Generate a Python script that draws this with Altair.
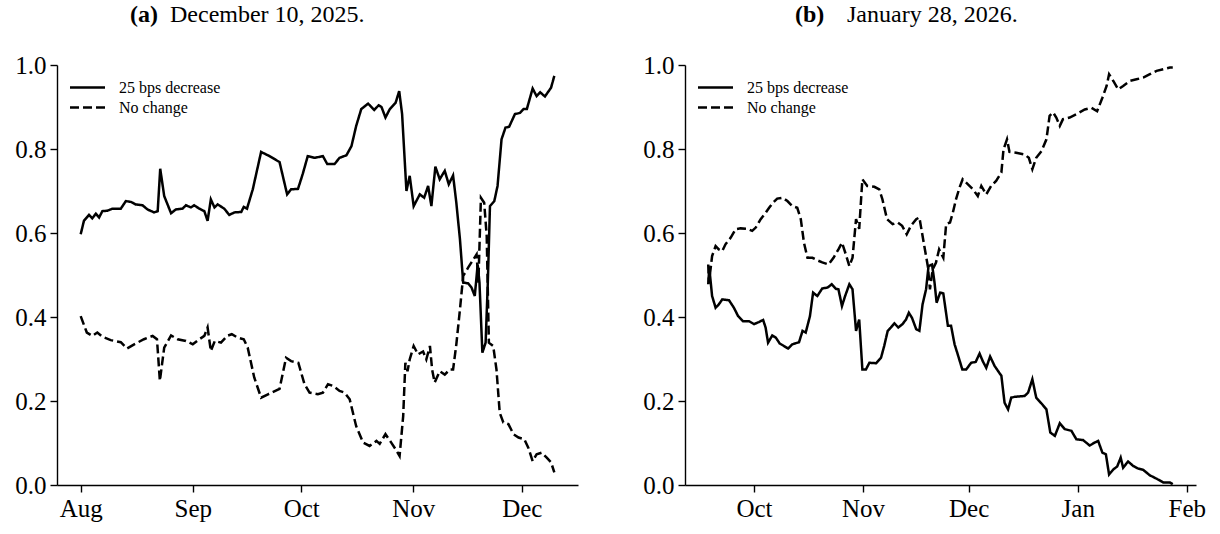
import altair as alt
import pandas as pd

SERIES = ["25 bps decrease", "No change"]
FONT = "Liberation Serif"

# Panel (a): FOMC meeting of December 10, 2025 (days counted from 2025-08-01)
A_START = "2025-08-01"
A_CUT_DAYS = [0.0, 0.9, 2.3, 3.2, 4.2, 5.1, 6.0, 7.4, 8.8, 11.1, 12.5, 13.9, 15.2, 17.1,
              18.5, 20.3, 21.3, 22.0, 23.1, 25.0, 26.3, 28.2, 29.1, 30.5, 31.4, 32.8,
              34.2, 35.1, 36.0, 37.0, 37.9, 39.7, 41.1, 42.5, 44.4, 45.1, 46.0, 47.6,
              49.9, 51.8, 55.0, 57.1, 58.2, 60.1, 61.4, 62.8, 64.7, 67.0, 68.2, 70.2,
              71.6, 73.5, 74.9, 76.2, 77.6, 79.5, 81.2, 82.4, 83.2, 84.3, 85.5, 87.1,
              88.1, 88.9, 90.1, 91.0, 92.1, 93.8, 95.0, 96.1, 97.0, 98.1, 99.3, 100.7,
              101.8, 103.0, 103.9, 104.9, 105.8, 107.2, 108.1, 109.0, 109.8, 110.3,
              111.1, 112.0, 112.6, 113.2, 114.4, 115.3, 116.4, 117.5, 118.5, 120.1,
              121.5, 122.5, 123.4, 125.0, 126.1, 127.1, 128.4, 130.1, 131.0]
A_CUT_PROB = [0.597, 0.629, 0.643, 0.635, 0.646, 0.637, 0.652, 0.653, 0.658, 0.658, 0.676,
              0.674, 0.668, 0.666, 0.656, 0.649, 0.652, 0.753, 0.688, 0.647, 0.656, 0.658,
              0.666, 0.661, 0.666, 0.658, 0.652, 0.629, 0.680, 0.661, 0.668, 0.658, 0.643,
              0.649, 0.650, 0.662, 0.658, 0.704, 0.793, 0.785, 0.769, 0.692, 0.704, 0.705,
              0.740, 0.783, 0.779, 0.783, 0.764, 0.764, 0.779, 0.785, 0.807, 0.855, 0.895,
              0.908, 0.893, 0.904, 0.900, 0.875, 0.895, 0.910, 0.938, 0.883, 0.700, 0.736,
              0.664, 0.692, 0.684, 0.712, 0.664, 0.758, 0.728, 0.748, 0.716, 0.737, 0.672,
              0.585, 0.482, 0.480, 0.470, 0.450, 0.525, 0.482, 0.315, 0.339, 0.480, 0.664,
              0.676, 0.712, 0.823, 0.851, 0.853, 0.883, 0.886, 0.895, 0.895, 0.944, 0.926,
              0.935, 0.925, 0.946, 0.974]
A_HOLD_DAYS = [0.0, 1.7, 3.2, 4.6, 6.0, 8.3, 11.1, 12.8, 14.8, 17.5, 19.9, 21.1, 21.9, 23.1,
               25.0, 26.8, 29.1, 31.0, 32.8, 34.2, 35.1, 36.0, 37.1, 38.8, 40.5, 41.8,
               43.4, 45.1, 46.2, 48.0, 49.9, 51.8, 55.0, 56.8, 58.2, 60.2, 61.9, 63.3,
               65.6, 67.0, 68.4, 69.8, 71.6, 73.0, 74.4, 76.2, 78.1, 79.9, 81.8, 82.7,
               84.3, 85.9, 87.1, 88.2, 89.2, 89.8, 90.4, 91.0, 92.1, 93.3, 94.7, 95.6,
               96.6, 97.2, 97.9, 99.3, 100.7, 102.1, 103.0, 103.9, 104.9, 105.8, 107.2,
               108.6, 109.5, 110.0, 110.7, 111.6, 112.3, 112.9, 114.1, 115.0, 115.9,
               116.9, 118.3, 119.7, 121.1, 122.7, 123.8, 125.0, 126.1, 127.5, 128.9,
               130.1, 131.0]
A_HOLD_PROB = [0.402, 0.363, 0.355, 0.363, 0.353, 0.345, 0.340, 0.325, 0.335, 0.347, 0.355,
               0.347, 0.248, 0.327, 0.356, 0.347, 0.343, 0.335, 0.347, 0.355, 0.375, 0.319,
               0.343, 0.339, 0.355, 0.359, 0.351, 0.347, 0.327, 0.256, 0.208, 0.216, 0.229,
               0.303, 0.295, 0.291, 0.240, 0.220, 0.216, 0.220, 0.240, 0.236, 0.224, 0.220,
               0.204, 0.140, 0.101, 0.093, 0.105, 0.098, 0.121, 0.101, 0.085, 0.069, 0.164,
               0.291, 0.271, 0.299, 0.331, 0.311, 0.318, 0.299, 0.331, 0.275, 0.244, 0.271,
               0.263, 0.275, 0.275, 0.335, 0.418, 0.498, 0.518, 0.537, 0.549, 0.482, 0.684,
               0.672, 0.593, 0.339, 0.331, 0.275, 0.172, 0.149, 0.145, 0.121, 0.113, 0.109,
               0.089, 0.057, 0.073, 0.077, 0.065, 0.054, 0.030]

# Panel (b): FOMC meeting of January 28, 2026 (days counted from 2025-09-18)
B_START = "2025-09-18"
B_CUT_DAYS = [0.0, 0.3, 1.1, 2.1, 3.0, 4.0, 5.9, 7.3, 8.5, 9.9, 11.6, 13.0, 14.4, 15.6, 16.3,
              17.0, 18.2, 19.2, 20.3, 21.5, 22.7, 23.9, 25.8, 26.8, 27.7, 28.9, 29.8, 31.0,
              32.4, 33.9, 35.1, 36.3, 37.0, 38.0, 38.9, 40.1, 41.0, 42.0, 42.9, 43.8, 44.8,
              45.8, 47.7, 49.1, 50.0, 51.0, 51.9, 52.9, 54.0, 55.2, 56.2, 57.0, 57.9, 59.1,
              60.0, 60.9, 61.9, 62.6, 63.6, 64.3, 64.9, 65.9, 66.8, 68.1, 69.0, 70.0, 70.9,
              72.2, 73.3, 74.7, 76.0, 77.1, 78.0, 79.0, 80.1, 81.4, 83.3, 84.2, 85.2, 86.1,
              87.1, 89.9, 90.9, 92.1, 93.2, 94.7, 96.1, 97.2, 98.5, 99.9, 101.3, 103.2,
              104.6, 106.5, 108.4, 109.8, 110.8, 112.0, 113.0, 113.9, 115.1, 116.2, 117.2,
              117.9, 119.3, 120.8, 122.2, 123.6, 125.5, 127.4, 129.3, 131.2, 132.0]
B_CUT_PROB = [0.478, 0.517, 0.450, 0.422, 0.430, 0.442, 0.440, 0.422, 0.402, 0.390, 0.390,
              0.383, 0.388, 0.393, 0.375, 0.339, 0.356, 0.351, 0.337, 0.331, 0.325, 0.335,
              0.340, 0.367, 0.363, 0.402, 0.458, 0.450, 0.468, 0.470, 0.478, 0.467, 0.466,
              0.426, 0.450, 0.478, 0.466, 0.367, 0.394, 0.275, 0.275, 0.291, 0.290, 0.303,
              0.331, 0.367, 0.375, 0.385, 0.375, 0.383, 0.394, 0.410, 0.398, 0.371, 0.367,
              0.430, 0.466, 0.521, 0.525, 0.482, 0.434, 0.458, 0.456, 0.379, 0.379, 0.335,
              0.311, 0.275, 0.275, 0.291, 0.293, 0.313, 0.295, 0.279, 0.306, 0.283, 0.260,
              0.196, 0.180, 0.208, 0.210, 0.212, 0.220, 0.252, 0.208, 0.194, 0.180, 0.125,
              0.117, 0.147, 0.133, 0.129, 0.109, 0.107, 0.094, 0.101, 0.105, 0.077, 0.073,
              0.025, 0.037, 0.044, 0.065, 0.041, 0.056, 0.045, 0.039, 0.036, 0.023, 0.015,
              0.006, 0.006, 0.002]
B_HOLD_DAYS = [0.0, 0.2, 1.1, 2.1, 3.0, 4.0, 4.9, 6.4, 7.8, 9.2, 11.1, 12.5, 13.5, 14.9, 16.3,
               17.3, 18.4, 19.6, 21.1, 22.5, 23.9, 25.3, 26.3, 27.2, 28.2, 29.6, 31.0, 32.4,
               34.2, 35.6, 37.0, 38.0, 39.1, 40.1, 41.0, 42.0, 42.9, 43.8, 45.2, 47.2, 48.6,
               49.5, 50.8, 52.4, 53.8, 55.1, 56.4, 57.6, 59.1, 60.0, 61.4, 62.4, 63.0, 63.8,
               64.7, 65.6, 66.8, 67.6, 68.7, 69.5, 70.4, 71.4, 72.3, 73.8, 75.2, 76.6, 77.6,
               79.0, 80.4, 81.8, 83.3, 83.9, 84.9, 85.6, 87.5, 89.9, 91.1, 92.1, 93.2, 94.7,
               96.1, 97.0, 98.0, 98.9, 99.9, 100.8, 102.7, 104.6, 107.0, 108.9, 110.5, 112.0,
               113.2, 113.9, 115.1, 116.5, 117.9, 119.8, 121.7, 123.6, 125.5, 127.4, 129.3,
               131.2, 132.0]
B_HOLD_PROB = [0.525, 0.482, 0.545, 0.569, 0.561, 0.557, 0.573, 0.589, 0.609, 0.611, 0.610,
               0.605, 0.613, 0.633, 0.648, 0.660, 0.672, 0.682, 0.684, 0.676, 0.664, 0.660,
               0.633, 0.577, 0.541, 0.541, 0.535, 0.530, 0.525, 0.541, 0.561, 0.577, 0.549,
               0.521, 0.541, 0.633, 0.610, 0.728, 0.712, 0.710, 0.704, 0.680, 0.633, 0.621,
               0.625, 0.617, 0.597, 0.617, 0.633, 0.637, 0.569, 0.521, 0.466, 0.514, 0.529,
               0.561, 0.541, 0.621, 0.625, 0.648, 0.680, 0.708, 0.728, 0.716, 0.704, 0.688,
               0.712, 0.692, 0.712, 0.724, 0.744, 0.799, 0.823, 0.793, 0.791, 0.787, 0.779,
               0.752, 0.779, 0.795, 0.823, 0.879, 0.887, 0.875, 0.855, 0.871, 0.875, 0.883,
               0.894, 0.898, 0.890, 0.922, 0.950, 0.978, 0.962, 0.942, 0.950, 0.962, 0.966,
               0.970, 0.978, 0.986, 0.990, 0.994, 0.994]

Y_TICKS = [0.0, 0.2, 0.4, 0.6, 0.8, 1.0]

# A wide horizontal stroke drawn inside a compact legend row
LEGEND_HANDLE = "M-1.75,0H1.75"


def series_frame(start, days, probs, label):
    stamps = pd.Timestamp(start) + pd.to_timedelta(days, unit="D")
    return pd.DataFrame({
        "date": stamps.strftime("%Y-%m-%dT%H:%M:%SZ"),
        "prob": probs,
        "series": label,
    })


def to_ms(ts):
    return int(ts.value // 10**6)


def panel(start, cut_days, cut_prob, hold_days, hold_prob, tag, caption, width,
          tag_x, caption_x):
    df = pd.concat([
        series_frame(start, cut_days, cut_prob, SERIES[0]),
        series_frame(start, hold_days, hold_prob, SERIES[1]),
    ], ignore_index=True)

    # 5% padding on either side of the observed date range
    t0 = pd.Timestamp(start) + pd.to_timedelta(min(cut_days + hold_days), unit="D")
    t1 = pd.Timestamp(start) + pd.to_timedelta(max(cut_days + hold_days), unit="D")
    pad = (t1 - t0) * 0.05
    domain = [to_ms(t0 - pad), to_ms(t1 + pad)]

    lines = alt.Chart(df).mark_line(strokeWidth=2.5, color="black", clip=True).encode(
        x=alt.X("date:T", title=None,
                scale=alt.Scale(type="utc", domain=domain, nice=False),
                axis=alt.Axis(tickCount=alt.TimeIntervalStep(interval="month", step=1),
                              labelExpr="utcFormat(datum.value, '%b')", grid=False)),
        y=alt.Y("prob:Q", title=None,
                scale=alt.Scale(domain=[0, 1], nice=False),
                axis=alt.Axis(values=Y_TICKS, format=".1f", grid=False)),
        strokeDash=alt.StrokeDash(
            "series:N",
            scale=alt.Scale(domain=SERIES, range=[[1, 0], [9, 4]]),
            legend=alt.Legend(title=None, orient="none", legendX=19, legendY=11,
                              symbolType=LEGEND_HANDLE, symbolSize=400,
                              symbolStrokeWidth=2.5, symbolStrokeColor="black",
                              symbolFillColor="transparent",
                              labelFont=FONT, labelFontSize=16, labelColor="black",
                              labelOffset=20, rowPadding=0, padding=0),
        ),
        order="series:N",
    )

    tag_text = alt.Chart(pd.DataFrame({"t": [tag]})).mark_text(
        font=FONT, fontSize=24, fontWeight="bold", align="left", baseline="alphabetic",
        color="black").encode(text="t:N", x=alt.value(tag_x), y=alt.value(-43))
    caption_text = alt.Chart(pd.DataFrame({"t": [caption]})).mark_text(
        font=FONT, fontSize=24, align="left", baseline="alphabetic",
        color="black").encode(text="t:N", x=alt.value(caption_x), y=alt.value(-43))

    return alt.layer(lines, tag_text, caption_text).properties(width=width, height=420)


left = panel(A_START, A_CUT_DAYS, A_CUT_PROB, A_HOLD_DAYS, A_HOLD_PROB,
             "(a)", "December 10, 2025.", 521, 73, 113)
right = panel(B_START, B_CUT_DAYS, B_CUT_PROB, B_HOLD_DAYS, B_HOLD_PROB,
              "(b)", "January 28, 2026.", 511, 110, 162)

chart = alt.hconcat(left, right, spacing=64).resolve_scale(
    x="independent", strokeDash="independent"
).resolve_legend(strokeDash="independent").configure_view(
    stroke=None
).configure_axis(
    labelFont=FONT, labelFontSize=25, labelColor="black", labelPadding=4,
    domainColor="black", domainWidth=1.4, tickColor="black", tickWidth=1.4, tickSize=7,
).configure_legend(
    labelFont=FONT, labelFontSize=16, labelColor="black",
).properties(
    padding={"left": 14, "top": 3, "right": 10, "bottom": 5},
    background="white",
)

chart.save("out.html", embed_options={"renderer": "svg", "actions": False})
